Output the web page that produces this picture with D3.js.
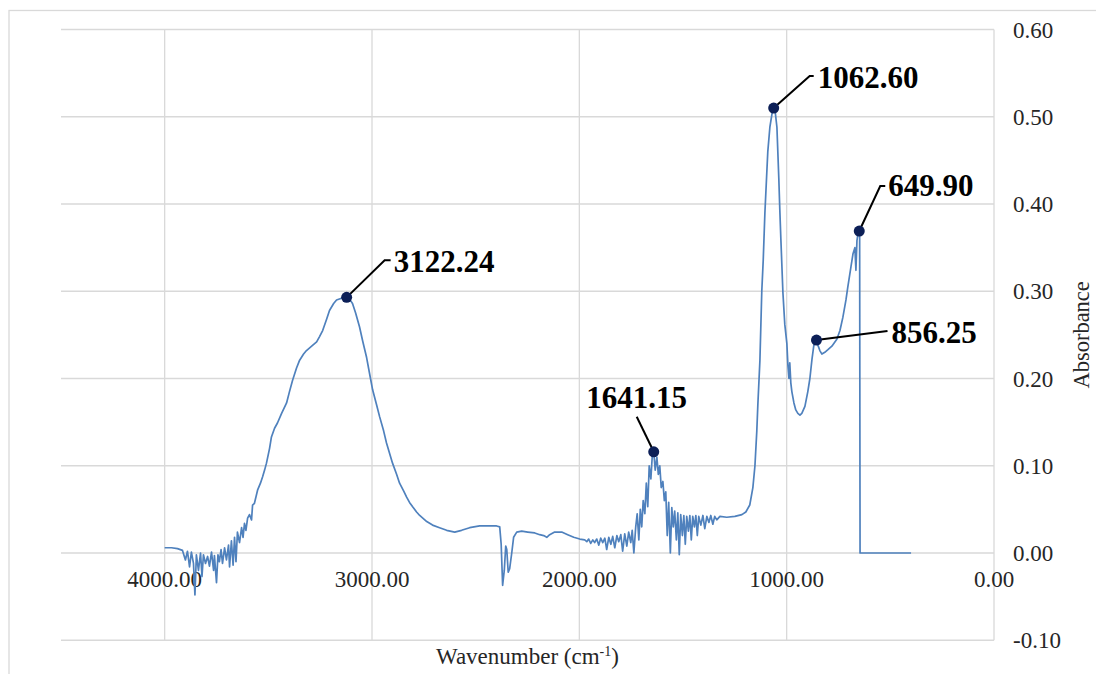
<!DOCTYPE html>
<html><head><meta charset="utf-8">
<script src="https://cdn.jsdelivr.net/npm/d3@7"></script>
<style>body{margin:0;background:#fff} svg{display:block}</style>
</head><body><svg id="c" width="1096" height="674"></svg>
<script>
// ---- data ----
const wavenumber = [4000,3967,3938,3914,3900,3890,3880,3871,3861,3854,3847,3837,3827,3820,3813,3803,3793,3784,3774,3764,3760,3750,3743,3736,3728,3721,3711,3702,3692,3687,3678,3670,3663,3656,3649,3639,3629,3622,3615,3608,3600,3591,3581,3576,3567,3552,3538,3528,3518,3509,3494,3485,3470,3456,3436,3412,3398,3383,3364,3349,3330,3316,3291,3267,3253,3238,3219,3205,3185,3171,3147,3122.24,3108,3094,3079,3060,3045,3026,3012,2997,2978,2963,2944,2930,2915,2901,2881,2867,2847,2833,2819,2804,2785,2770,2736,2708,2674,2640,2601,2568,2529,2481,2432,2399,2384,2377,2370,2362,2355,2350,2343,2336,2326,2317,2302,2278,2249,2215,2191,2172,2157,2143,2119,2085,2056,2027,1998,1974,1964,1955,1945,1935,1926,1916,1906,1897,1887,1877,1868,1858,1848,1839,1829,1819,1810,1800,1791,1781,1771,1762,1752,1745,1737,1728,1721,1713,1706,1699,1692,1684,1677,1670,1663,1655,1648,1641.15,1634,1626,1619,1612,1605,1597,1590,1583,1576,1569,1561,1554,1547,1540,1532,1525,1518,1511,1503,1496,1489,1482,1474,1467,1460,1453,1445,1438,1431,1424,1414,1404,1395,1385,1375,1366,1356,1347,1337,1322,1289,1250,1216,1197,1178,1163,1153,1144,1139,1129,1120,1113,1105,1097,1091,1081,1071,1062.60,1055,1047,1038,1033,1028,1018,1009,999,994,989,985,980,975,965,956,946,936,927,912,898,888,878,869,856.25,849,840,830,816,801,782,758,743,729,714,705,690,680,671,666,661,656,649.90,648,646,600,400];
const absorbance = [0.006,0.006,0.005,0.003,-0.008,0.002,-0.016,0.001,-0.012,-0.048,-0.002,-0.020,0.000,-0.027,-0.002,-0.012,-0.004,-0.015,0.001,-0.020,-0.003,-0.034,-0.002,-0.010,0.004,-0.012,0.006,-0.008,0.009,-0.016,0.014,-0.014,0.018,-0.010,0.024,0.012,0.029,0.018,0.034,0.026,0.040,0.044,0.038,0.055,0.057,0.072,0.080,0.087,0.095,0.103,0.120,0.133,0.143,0.149,0.160,0.172,0.185,0.198,0.212,0.221,0.228,0.232,0.237,0.242,0.248,0.255,0.268,0.278,0.286,0.290,0.292,0.293,0.291,0.286,0.275,0.259,0.243,0.224,0.206,0.187,0.170,0.156,0.140,0.126,0.114,0.103,0.090,0.080,0.071,0.064,0.058,0.053,0.047,0.043,0.036,0.032,0.029,0.026,0.024,0.026,0.029,0.031,0.031,0.031,0.030,0.010,-0.037,-0.020,0.008,0.004,-0.022,-0.018,0.000,0.018,0.024,0.025,0.024,0.023,0.021,0.020,0.018,0.021,0.024,0.024,0.021,0.018,0.016,0.015,0.013,0.016,0.011,0.015,0.012,0.016,0.009,0.017,0.012,0.017,0.004,0.018,0.010,0.019,0.006,0.020,0.013,0.021,0.002,0.022,0.008,0.024,0.012,0.026,0.000,0.030,0.045,0.015,0.050,0.030,0.060,0.045,0.080,0.053,0.100,0.085,0.112,0.116,0.095,0.110,0.090,0.100,0.075,0.082,0.060,0.070,0.020,0.058,0.000,0.052,0.030,0.048,0.015,0.046,-0.002,0.044,0.020,0.043,0.010,0.042,0.025,0.043,0.015,0.042,0.030,0.043,0.020,0.042,0.032,0.043,0.028,0.042,0.035,0.043,0.033,0.042,0.038,0.042,0.041,0.042,0.044,0.047,0.055,0.075,0.100,0.140,0.170,0.221,0.300,0.336,0.390,0.430,0.460,0.488,0.503,0.510,0.505,0.488,0.430,0.393,0.360,0.298,0.262,0.240,0.215,0.200,0.218,0.195,0.185,0.172,0.164,0.160,0.158,0.160,0.168,0.185,0.200,0.222,0.238,0.244,0.238,0.232,0.228,0.230,0.233,0.237,0.245,0.255,0.270,0.290,0.305,0.328,0.343,0.350,0.324,0.358,0.366,0.369,0.365,0.000,0.000,0.000];

const peakWavenumber = [3122.24, 1641.15, 1062.60, 856.25, 649.90];
const peakAbsorbance = [0.293, 0.116, 0.510, 0.244, 0.369];
const peakLabels = ["3122.24", "1641.15", "1062.60", "856.25", "649.90"];

const xTicks = [4000, 3000, 2000, 1000, 0];
const yTicks = [-0.1, 0, 0.1, 0.2, 0.3, 0.4, 0.5, 0.6];
const xDomain = [4500, 0];
const yDomain = [-0.1, 0.6];
const xTitle = "Wavenumber (cm";
const xTitleSup = "-1";
const yTitle = "Absorbance";

// ---- layout / style ----
const svg = d3.select("#c");
const plot = {left: 61, right: 994, top: 29.5, bottom: 640.25};
const x = d3.scaleLinear().domain(xDomain).range([plot.left, plot.right]);
const y = d3.scaleLinear().domain(yDomain).range([plot.bottom, plot.top]);
const grid = "#d9d9d9";
const serif = "'Liberation Serif','Times New Roman',serif";
const fmt2 = d3.format(".2f");
const fmt = v => fmt2(v).replace("\u2212", "-");

svg.append("rect").attr("width", 1096).attr("height", 674).attr("fill", "#fff");
// outer chart border (cut off at right/bottom)
svg.append("rect").attr("x", 9).attr("y", 10.5).attr("width", 1200).attr("height", 800)
  .attr("fill", "none").attr("stroke", grid).attr("stroke-width", 1.3);

// horizontal gridlines
svg.append("g").selectAll("line").data(yTicks).join("line")
  .attr("x1", plot.left).attr("x2", plot.right)
  .attr("y1", d => y(d)).attr("y2", d => y(d))
  .attr("stroke", grid).attr("stroke-width", 1.3);
// vertical gridlines
svg.append("g").selectAll("line").data(xTicks).join("line")
  .attr("x1", d => x(d)).attr("x2", d => x(d))
  .attr("y1", plot.top).attr("y2", plot.bottom)
  .attr("stroke", grid).attr("stroke-width", 1.3);

// x tick labels (below the zero line)
svg.append("g").selectAll("text").data(xTicks).join("text")
  .attr("x", d => x(d)).attr("y", y(0) + 34)
  .attr("text-anchor", "middle")
  .attr("font-family", serif).attr("font-size", 23).attr("fill", "#262626")
  .text(d => fmt(d));

// y tick labels (right side)
svg.append("g").selectAll("text").data(yTicks).join("text")
  .attr("x", 1013).attr("y", d => y(d)).attr("dy", "0.35em")
  .attr("font-family", serif).attr("font-size", 23).attr("fill", "#262626")
  .text(d => fmt(d));

// axis titles
const xt = svg.append("text").attr("x", (plot.left + plot.right) / 2).attr("y", 664)
  .attr("text-anchor", "middle").attr("font-family", serif).attr("font-size", 23).attr("fill", "#262626");
xt.append("tspan").text(xTitle);
xt.append("tspan").attr("font-size", 14).attr("dy", -8).text(xTitleSup);
xt.append("tspan").attr("dy", 8).text(")");

svg.append("text").attr("transform", `translate(1089,${(plot.top + plot.bottom) / 2}) rotate(-90)`)
  .attr("text-anchor", "middle").attr("font-family", serif).attr("font-size", 22.5).attr("fill", "#262626")
  .text(yTitle);

// spectrum line
const pts = wavenumber.map((w, i) => [w, absorbance[i]]);
svg.append("path").datum(pts)
  .attr("d", d3.line().x(d => x(d[0])).y(d => y(d[1])))
  .attr("fill", "none").attr("stroke", "#4f81bd").attr("stroke-width", 1.7)
  .attr("stroke-linejoin", "round");

// annotation geometry (offsets from the marker, in px)
const ann = [
  {elbow: [38, -37], end: [44, -37], text: [47, -25], anchor: "start"},
  {elbow: null, end: [-17, -35], text: [-17, -44], anchor: "middle"},
  {elbow: [36, -32], end: [40, -32], text: [44, -20], anchor: "start"},
  {elbow: null, end: [71, -9], text: [75, 3], anchor: "start"},
  {elbow: [21, -45], end: [26, -45], text: [29, -35], anchor: "start"}
];

const g = svg.append("g");
peakWavenumber.forEach((w, i) => {
  const px = x(w), py = y(peakAbsorbance[i]);
  const a = ann[i];
  const ptsL = [[px, py]];
  if (a.elbow) ptsL.push([px + a.elbow[0], py + a.elbow[1]]);
  ptsL.push([px + a.end[0], py + a.end[1]]);
  g.append("path").attr("d", d3.line()(ptsL)).attr("fill", "none")
    .attr("stroke", "#000").attr("stroke-width", 2);
  g.append("circle").attr("cx", px).attr("cy", py).attr("r", 5.5).attr("fill", "#0c1f57");
  g.append("text").attr("x", px + a.text[0]).attr("y", py + a.text[1])
    .attr("text-anchor", a.anchor).attr("font-family", serif).attr("font-weight", "bold")
    .attr("font-size", 31).attr("fill", "#000").text(peakLabels[i]);
});
</script></body></html>
